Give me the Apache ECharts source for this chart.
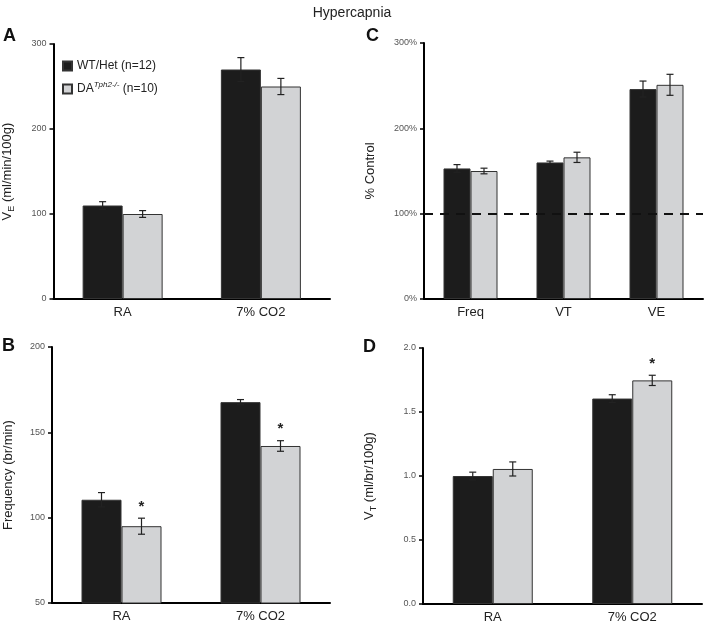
<!DOCTYPE html>
<html><head><meta charset="utf-8">
<script src="https://cdn.jsdelivr.net/npm/echarts@6/dist/echarts.min.js"></script>
<style>html,body{margin:0;padding:0;background:#fff}#c{width:704px;height:625px}</style>
</head><body><div id="c"></div>
<script>
// ---- data ----
const catsAB = ['RA', '7% CO2'];
const catsC = ['Freq', 'VT', 'VE'];
const seriesNames = ['WT/Het (n=12)', 'DA Tph2-/- (n=10)'];

const veWT = [110, 270];      const veWTerr = [4.5, 14];
const veKO = [100, 250];      const veKOerr = [4, 9.5];

const freqWT = [110.5, 167.7]; const freqWTerr = [4.2, 1.5];
const freqKO = [95, 142];      const freqKOerr = [4.7, 3.1];
const freqKOstar = [1, 1];

const pctWT = [153, 160, 246]; const pctWTerr = [4.5, 1.6, 9.4];
const pctKO = [150, 166, 251]; const pctKOerr = [3.3, 6, 12.3];

const vtWT = [1.0, 1.605];    const vtWTerr = [0.03, 0.03];
const vtKO = [1.055, 1.747];  const vtKOerr = [0.055, 0.04];
const vtKOstar = [0, 1];

// ---- styles ----
const FONT = 'Liberation Sans, Arial, sans-serif';
const BLACK = '#1c1c1c', GRAY = '#d2d3d5';

const grids = [
  {left: 52, top: 44, width: 278, height: 255},
  {left: 52, top: 347, width: 278, height: 256},
  {left: 424, top: 43, width: 279, height: 256},
  {left: 423, top: 348, width: 279, height: 256}
];

function xAxis(gi, cats) {
  return {type: 'category', gridIndex: gi, data: cats,
    axisLine: {lineStyle: {color: '#000', width: 2}},
    axisTick: {length: 5, lineStyle: {color: '#000', width: 2}},
    axisLabel: {fontFamily: FONT, fontSize: 13, color: '#222', margin: 7}};
}
function yAxis(gi, min, max, interval, name, gap, fmt, rich) {
  return {type: 'value', gridIndex: gi, min, max, interval,
    name, nameLocation: 'middle', nameGap: gap,
    nameTextStyle: {fontFamily: FONT, fontSize: 13, color: '#222', rich: rich},
    axisLine: {show: true, lineStyle: {color: '#000', width: 2}},
    axisTick: {show: true, length: 4, lineStyle: {color: '#000', width: 1.5}},
    splitLine: {show: false},
    axisLabel: {fontFamily: FONT, fontSize: 9, color: '#555', margin: 7, formatter: fmt}};
}
const subRich = {
  a: {fontFamily: FONT, fontSize: 13, color: '#222', lineHeight: 18},
  s: {fontFamily: FONT, fontSize: 9, color: '#222', lineHeight: 10, verticalAlign: 'bottom'}
};

function bar(name, gi, vals, color, bw) {
  return {type: 'bar', name, xAxisIndex: gi, yAxisIndex: gi, data: vals,
    barWidth: bw, barGap: '0%',
    itemStyle: {color, borderColor: '#333', borderWidth: 1}, z: 2};
}
function errs(gi, vals, errsArr, side, bw, stars) {
  const data = vals.map((v, i) => [i, v, errsArr[i], stars ? stars[i] : 0]);
  return {type: 'custom', xAxisIndex: gi, yAxisIndex: gi, data, z: 5, silent: true,
    encode: {x: 0, y: 1},
    renderItem: function (params, api) {
      const c = api.value(0), v = api.value(1), e = api.value(2), s = api.value(3);
      const top = api.coord([c, v + e]);
      const bot = api.coord([c, v - e]);
      const x = top[0] + side * bw / 2;
      const hw = 3.5;
      const st = {stroke: '#222', lineWidth: 1.2};
      const ch = [
        {type: 'line', shape: {x1: x, y1: top[1], x2: x, y2: bot[1]}, style: st},
        {type: 'line', shape: {x1: x - hw, y1: top[1], x2: x + hw, y2: top[1]}, style: st},
        {type: 'line', shape: {x1: x - hw, y1: bot[1], x2: x + hw, y2: bot[1]}, style: st}
      ];
      if (s) ch.push({type: 'text', style: {x: x, y: top[1] - 4, text: '*', fill: '#222',
        font: 'bold 15px ' + FONT, align: 'center', verticalAlign: 'bottom'}});
      return {type: 'group', children: ch};
    }};
}

const series = [
  bar(seriesNames[0], 0, veWT, BLACK, 40), bar(seriesNames[1], 0, veKO, GRAY, 40),
  errs(0, veWT, veWTerr, -1, 40), errs(0, veKO, veKOerr, 1, 40),
  bar(seriesNames[0], 1, freqWT, BLACK, 40), bar(seriesNames[1], 1, freqKO, GRAY, 40),
  errs(1, freqWT, freqWTerr, -1, 40), errs(1, freqKO, freqKOerr, 1, 40, freqKOstar),
  bar(seriesNames[0], 2, pctWT, BLACK, 27),
  Object.assign(bar(seriesNames[1], 2, pctKO, GRAY, 27), {
    markLine: {silent: true, symbol: 'none', z: 10, label: {show: false},
      lineStyle: {color: '#111', width: 2, type: [9, 7]},
      data: [{yAxis: 100}]}
  }),
  errs(2, pctWT, pctWTerr, -1, 27), errs(2, pctKO, pctKOerr, 1, 27),
  bar(seriesNames[0], 3, vtWT, BLACK, 40), bar(seriesNames[1], 3, vtKO, GRAY, 40),
  errs(3, vtWT, vtWTerr, -1, 40), errs(3, vtKO, vtKOerr, 1, 40, vtKOstar)
];

const chart = echarts.init(document.getElementById('c'), null, {renderer: 'canvas'});
chart.setOption({
  animation: false,
  backgroundColor: '#fff',
  title: {text: 'Hypercapnia', left: 'center', top: 1,
    textStyle: {fontFamily: FONT, fontSize: 14, fontWeight: 'normal', color: '#222'}},
  legend: {data: seriesNames, orient: 'vertical', left: 57, top: 55,
    itemWidth: 9, itemHeight: 9, itemGap: 9, icon: 'rect',
    formatter: function (n) {
      return n === seriesNames[0] ? '{t|WT/Het (n=12)}' : '{t|DA}{sup|Tph2-/-}{t| (n=10)}';
    },
    textStyle: {fontFamily: FONT, color: '#222', rich: {
      t: {fontFamily: FONT, fontSize: 12, color: '#222', lineHeight: 16},
      sup: {fontFamily: FONT, fontSize: 8, fontStyle: 'italic', color: '#222', lineHeight: 10, verticalAlign: 'top'}
    }}},
  grid: grids,
  xAxis: [xAxis(0, catsAB), xAxis(1, catsAB), xAxis(2, catsC), xAxis(3, catsAB)],
  yAxis: [
    yAxis(0, 0, 300, 100, '{a|V}{s|E}{a| (ml/min/100g)}', 37, null, subRich),
    yAxis(1, 50, 200, 50, 'Frequency (br/min)', 37, null, null),
    yAxis(2, 0, 300, 100, '% Control', 47, '{value}%', null),
    yAxis(3, 0, 2, 0.5, '{a|V}{s|T}{a| (ml/br/100g)}', 45, function (v) { return v.toFixed(1); }, subRich)
  ],
  graphic: [
    {type: 'text', left: 3, top: 27, style: {text: 'A', font: 'bold 18px ' + FONT, fill: '#111'}},
    {type: 'text', left: 2, top: 337, style: {text: 'B', font: 'bold 18px ' + FONT, fill: '#111'}},
    {type: 'text', left: 366, top: 27, style: {text: 'C', font: 'bold 18px ' + FONT, fill: '#111'}},
    {type: 'text', left: 363, top: 338, style: {text: 'D', font: 'bold 18px ' + FONT, fill: '#111'}}
  ],
  series
});
</script>
</body></html>
